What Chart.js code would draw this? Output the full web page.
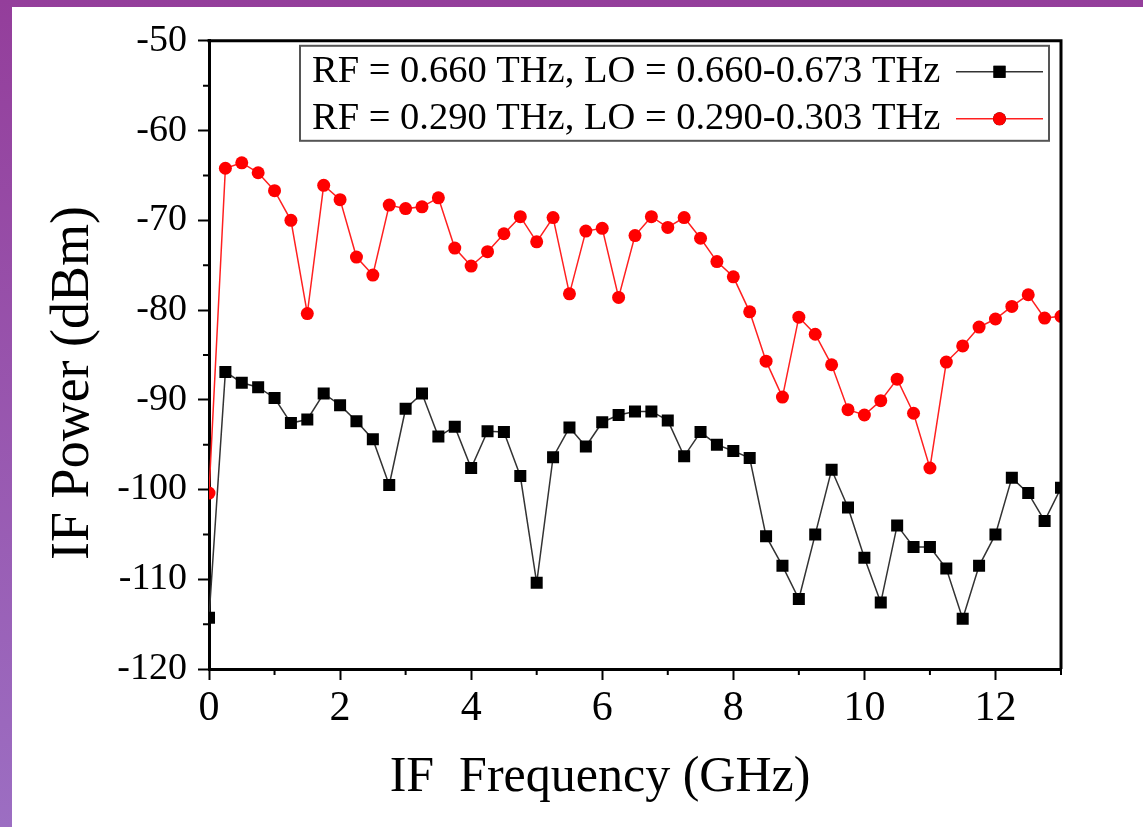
<!DOCTYPE html>
<html>
<head>
<meta charset="utf-8">
<script src="https://cdn.jsdelivr.net/npm/chart.js@4/dist/chart.umd.min.js"></script>
<style>
  html, body { margin: 0; padding: 0; }
  body { width: 1143px; height: 827px; position: relative; overflow: hidden;
         background: linear-gradient(#943e9b, #9c6ec2); }
  #panel { position: absolute; left: 12px; top: 7px; width: 1131px; height: 820px; background: #fff; }
  #chart { display: block; }
</style>
</head>
<body>
<div id="panel"><canvas id="chart" width="1131" height="820"></canvas></div>
<script>
// IF frequency (GHz), sampled every 0.25 GHz
const freqGHz = [0, 0.25, 0.5, 0.75, 1, 1.25, 1.5, 1.75, 2, 2.25, 2.5, 2.75, 3, 3.25, 3.5, 3.75,
    4, 4.25, 4.5, 4.75, 5, 5.25, 5.5, 5.75, 6, 6.25, 6.5, 6.75, 7, 7.25, 7.5, 7.75,
    8, 8.25, 8.5, 8.75, 9, 9.25, 9.5, 9.75, 10, 10.25, 10.5, 10.75, 11, 11.25, 11.5, 11.75,
    12, 12.25, 12.5, 12.75, 13];

// RF = 0.660 THz (black squares), dBm
const power660 = [-114.3, -86.9, -88.1, -88.6, -89.8, -92.6, -92.2, -89.3, -90.6, -92.4, -94.4, -99.5,
    -91.0, -89.3, -94.1, -93.0, -97.6, -93.5, -93.6, -98.5, -110.4, -96.4, -93.1, -95.2,
    -92.5, -91.7, -91.3, -91.3, -92.3, -96.3, -93.6, -95.0, -95.7, -96.5, -105.2, -108.5,
    -112.2, -105.0, -97.8, -102.0, -107.6, -112.6, -104.0, -106.4, -106.4, -108.8, -114.4, -108.5,
    -105.0, -98.7, -100.4, -103.5, -99.8];

// RF = 0.290 THz (red circles), dBm
const power290 = [-100.4, -64.2, -63.6, -64.7, -66.7, -70.0, -80.4, -66.1, -67.7, -74.1, -76.1, -68.3,
    -68.7, -68.5, -67.5, -73.1, -75.1, -73.5, -71.5, -69.6, -72.4, -69.7, -78.2, -71.2,
    -70.9, -78.6, -71.7, -69.6, -70.8, -69.7, -72.0, -74.6, -76.3, -80.2, -85.7, -89.7,
    -80.8, -82.7, -86.1, -91.1, -91.7, -90.1, -87.7, -91.5, -97.6, -85.8, -84.0, -81.9,
    -81.0, -79.6, -78.3, -80.9, -80.7];

const seriesLabels = ['RF = 0.660 THz, LO = 0.660-0.673 THz', 'RF = 0.290 THz, LO = 0.290-0.303 THz'];
const xTitle = 'IF  Frequency (GHz)';
const yTitle = 'IF Power (dBm)';

const FONT = '"Liberation Serif", "Times New Roman", serif';

function pts(ys) { return freqGHz.map((f, i) => ({x: f, y: ys[i]})); }

// frame, minor ticks, axis titles and the boxed legend
const extras = {
    id: 'extras',
    afterDraw(chart) {
        const ctx = chart.ctx, a = chart.chartArea;
        const xs = chart.scales.x, ys = chart.scales.y;
        ctx.save();
        ctx.strokeStyle = '#000';
        ctx.lineWidth = 3;
        ctx.beginPath();
        ctx.moveTo(a.left - 1.5, a.top); ctx.lineTo(a.right, a.top);
        ctx.moveTo(a.right, a.top - 1.5); ctx.lineTo(a.right, a.bottom);
        ctx.stroke();

        ctx.lineWidth = 2;
        ctx.beginPath();
        for (let v = -115; v <= -55; v += 10) {
            const y = ys.getPixelForValue(v);
            ctx.moveTo(a.left - 6, y); ctx.lineTo(a.left, y);
        }
        for (let v = 1; v <= 13; v += 2) {
            const x = xs.getPixelForValue(v);
            ctx.moveTo(x, a.bottom); ctx.lineTo(x, a.bottom + 6);
        }
        ctx.stroke();

        // axis titles
        ctx.fillStyle = '#000';
        ctx.textAlign = 'center';
        ctx.textBaseline = 'middle';
        ctx.font = '50px ' + FONT;
        ctx.fillText(xTitle, a.left + 391, a.bottom + 109);
        ctx.save();
        ctx.translate(a.left - 135, (a.top + a.bottom) / 2 + 28);
        ctx.rotate(-Math.PI / 2);
        ctx.font = '54px ' + FONT;
        ctx.fillText(yTitle, 0, 0);
        ctx.restore();

        // legend
        const bl = a.left + 91, bt = a.top + 5, br = a.right - 12, bb = a.top + 100;
        ctx.fillStyle = '#fff';
        ctx.fillRect(bl, bt, br - bl, bb - bt);
        ctx.strokeStyle = '#555';
        ctx.lineWidth = 2;
        ctx.strokeRect(bl, bt, br - bl, bb - bt);
        ctx.font = '38.5px ' + FONT;
        ctx.textAlign = 'left';
        chart.data.datasets.forEach((ds, i) => {
            const cy = bt + 26 + i * 47;
            ctx.fillStyle = '#000';
            ctx.fillText(ds.label, bl + 12, cy);
            const x0 = br - 93, x1 = br - 6, cx = (x0 + x1) / 2;
            ctx.strokeStyle = ds.borderColor;
            ctx.lineWidth = 1.5;
            ctx.beginPath(); ctx.moveTo(x0, cy); ctx.lineTo(x1, cy); ctx.stroke();
            Chart.helpers.drawPoint(ctx, {pointStyle: ds.pointStyle, radius: ds.pointRadius, borderWidth: 0}, cx, cy);
            ctx.fillStyle = ds.pointBackgroundColor;
            ctx.fill();
        });
        ctx.restore();
    }
};

new Chart(document.getElementById('chart').getContext('2d'), {
    type: 'line',
    data: {
        datasets: [{
            label: seriesLabels[0],
            data: pts(power660),
            borderColor: '#333333',
            borderWidth: 1.5,
            pointStyle: 'rect',
            pointRadius: 8.5,
            pointBackgroundColor: '#000',
            pointBorderWidth: 0,
            tension: 0
        }, {
            label: seriesLabels[1],
            data: pts(power290),
            borderColor: '#ff2020',
            borderWidth: 1.5,
            pointStyle: 'circle',
            pointRadius: 6.5,
            pointBackgroundColor: '#ff0000',
            pointBorderWidth: 0,
            tension: 0
        }]
    },
    options: {
        responsive: false,
        animation: false,
        layout: {padding: {left: 0, top: 32, right: 82, bottom: 0}},
        plugins: {
            legend: {display: false},
            tooltip: {enabled: false}
        },
        scales: {
            x: {
                type: 'linear',
                min: 0, max: 13,
                afterFit(s) { s.height = 158; },
                border: {display: true, color: '#000', width: 3},
                grid: {drawOnChartArea: false, drawTicks: true, tickLength: 11, tickWidth: 2, tickColor: '#000'},
                ticks: {
                    stepSize: 2,
                    includeBounds: false,
                    color: '#000',
                    padding: 4,
                    maxRotation: 0,
                    font: {family: FONT, size: 42}
                }
            },
            y: {
                min: -120, max: -50,
                afterFit(s) { s.width = 197; },
                border: {display: true, color: '#000', width: 3},
                grid: {drawOnChartArea: false, drawTicks: true, tickLength: 11, tickWidth: 2, tickColor: '#000'},
                ticks: {
                    stepSize: 10,
                    color: '#000',
                    padding: 11,
                    font: {family: FONT, size: 38}
                }
            }
        }
    },
    plugins: [extras]
});
</script>
</body>
</html>
